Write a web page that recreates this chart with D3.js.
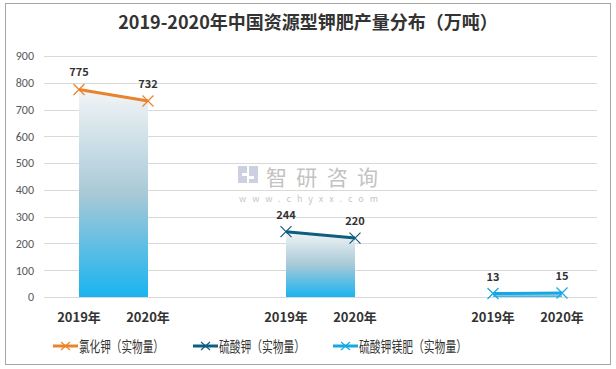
<!DOCTYPE html>
<html><head><meta charset="utf-8">
<script src="https://cdn.jsdelivr.net/npm/d3@7"></script>
<style>body{margin:0;background:#fff}svg{display:block;font-family:"Noto Sans CJK SC","Microsoft YaHei",sans-serif}</style>
</head><body><svg id="c" width="616" height="369"></svg>
<script>
const categories = ["2019年","2020年","","2019年","2020年","","2019年","2020年"];
const seriesNames = ["氯化钾（实物量）","硫酸钾（实物量）","硫酸钾镁肥（实物量）"];
const kclValues  = [775, 732, null, null, null, null, null, null];
const k2so4Values = [null, null, null, 244, 220, null, null, null];
const kmgValues  = [null, null, null, null, null, null, 13, 15];
const yTicks = [0,100,200,300,400,500,600,700,800,900];
const colors = ["#e9842c","#0e5e80","#14a9e2"];

const svg = d3.select("#c");
svg.append("rect").attr("x",5.5).attr("y",3.5).attr("width",605).attr("height",361).attr("fill","#fff").attr("stroke","#a6a6a6");
svg.append("text").attr("x",308).attr("y",29).attr("text-anchor","middle").attr("font-size",18).attr("font-weight","bold").attr("fill","#333").text("2019-2020年中国资源型钾肥产量分布（万吨）");

const x = d3.scalePoint().domain(d3.range(categories.length)).range([44.5,596.5]).padding(0.5);
const y = d3.scaleLinear().domain([0,900]).range([297,56]);

// grid
svg.append("g").selectAll("line").data(yTicks).join("line")
  .attr("x1",44).attr("x2",597).attr("y1",d=>Math.round(y(d))+0.5).attr("y2",d=>Math.round(y(d))+0.5)
  .attr("stroke","#d9d9d9").attr("stroke-width",1);
const ya = svg.append("g").attr("transform","translate(44,0)").call(d3.axisLeft(y).tickValues(yTicks).tickSize(0).tickPadding(10));
ya.select(".domain").remove();
ya.selectAll("text").attr("font-size",12).attr("fill","#595959").attr("font-family","Calibri,Carlito,'Liberation Sans',sans-serif");

// watermark
const wm = svg.append("g").attr("opacity",0.6);
wm.append("path").attr("d","M238,166h9v7h-5v3h5v7h-9z").attr("fill","#a9b4cc");
wm.append("path").attr("d","M249,166h9v17h-9v-4h5v-3h-5z").attr("fill","#a9b4cc");
wm.append("text").attr("x",266).attr("y",185).attr("font-size",21).attr("fill","#9a9a9a").attr("textLength",112).text("智研咨询");
wm.append("text").attr("x",239).attr("y",202).attr("font-size",9).attr("fill","#a0a0a0").attr("textLength",139).text("www.chyxx.com");

// gradient
const defs = svg.append("defs");
const g = defs.append("linearGradient").attr("id","ag").attr("x1",0).attr("y1",0).attr("x2",0).attr("y2",1);
g.append("stop").attr("offset","0%").attr("stop-color","#f2f5f7");
g.append("stop").attr("offset","50%").attr("stop-color","#a9c9d7");
g.append("stop").attr("offset","100%").attr("stop-color","#19b4f0");

const series = [kclValues,k2so4Values,kmgValues];
const area = d3.area().defined(d=>d.v!=null).x(d=>x(d.i)).y0(y(0)).y1(d=>y(d.v));
const line = d3.line().defined(d=>d.v!=null).x(d=>x(d.i)).y(d=>y(d.v));
series.forEach((vals,si)=>{
  const pts = vals.map((v,i)=>({v,i}));
  svg.append("path").datum(pts).attr("d",area).attr("fill","url(#ag)");
});
// x labels
svg.append("g").selectAll("text").data(categories).join("text")
  .attr("x",(d,i)=>x(i)).attr("y",322).attr("text-anchor","middle").attr("font-size",13).attr("font-weight","bold").attr("fill","#333").text(d=>d);

series.forEach((vals,si)=>{
  const pts = vals.map((v,i)=>({v,i}));
  svg.append("path").datum(pts).attr("d",line).attr("fill","none").attr("stroke",colors[si]).attr("stroke-width",3);
  const dp = pts.filter(d=>d.v!=null);
  svg.append("g").selectAll("path").data(dp).join("path")
    .attr("d",d=>{const cx=x(d.i),cy=y(d.v),r=5.5;return `M${cx-r},${cy-r}L${cx+r},${cy+r}M${cx-r},${cy+r}L${cx+r},${cy-r}`;})
    .attr("stroke",colors[si]).attr("stroke-width",1.2).attr("fill","none");
  svg.append("g").selectAll("text").data(dp).join("text")
    .attr("x",d=>x(d.i)).attr("y",d=>y(d.v)-13).attr("text-anchor","middle").attr("font-size",11).attr("font-weight","bold").attr("fill","#333").text(d=>d.v);
});

// legend
const lx = [53,193,333];
const lw = [85,86,108];
seriesNames.forEach((n,i)=>{
  const lg = svg.append("g").attr("transform",`translate(${lx[i]},346)`);
  lg.append("line").attr("x1",0).attr("x2",25).attr("y1",0).attr("y2",0).attr("stroke",colors[i]).attr("stroke-width",3);
  lg.append("path").attr("d","M8,-4L17,4M8,4L17,-4").attr("stroke",colors[i]).attr("stroke-width",1.1);
  lg.append("text").attr("x",26).attr("y",5.5).attr("font-size",15).attr("fill","#333").attr("textLength",lw[i]).attr("lengthAdjust","spacingAndGlyphs").text(n);
});
</script></body></html>
